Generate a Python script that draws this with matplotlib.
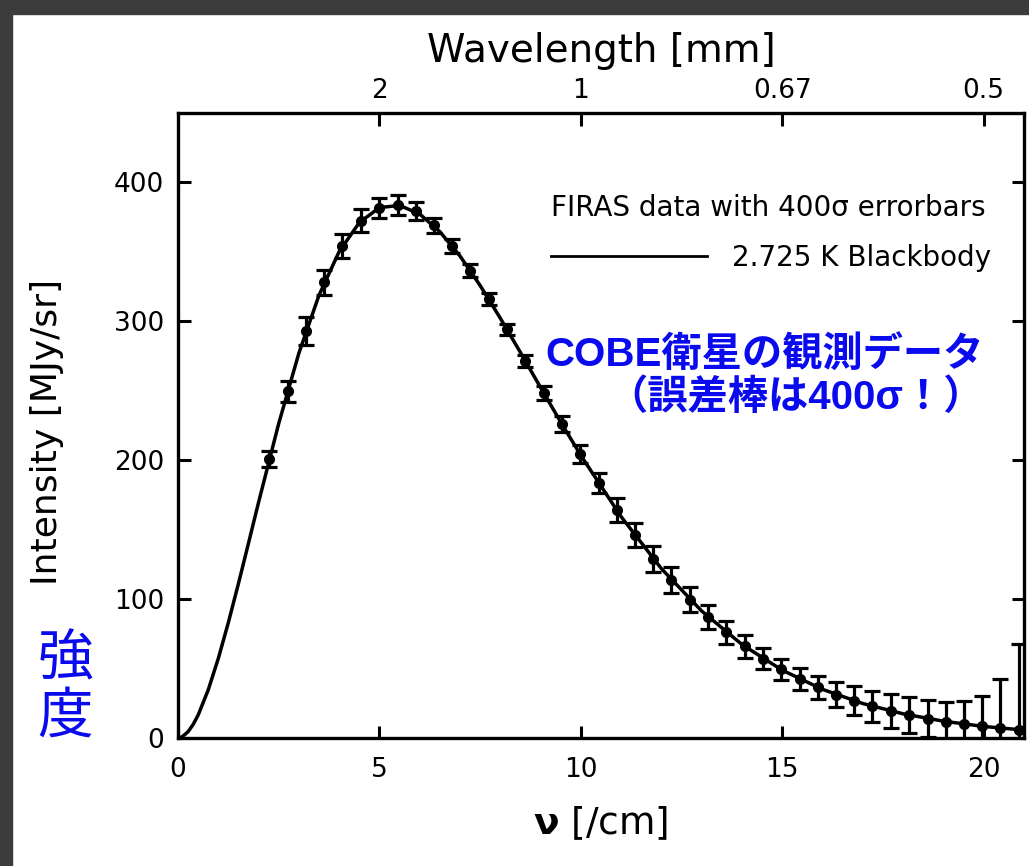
import matplotlib.pyplot as plt
from matplotlib.lines import Line2D
from matplotlib.patches import Rectangle

plt.rcParams['font.family'] = ['DejaVu Sans']

# FIRAS points (nu in /cm, intensity in MJy/sr, error bar = 400 sigma in MJy/sr)
nu = [2.27, 2.72, 3.18, 3.63, 4.08, 4.54, 4.99, 5.45, 5.90, 6.35, 6.81,
      7.26, 7.71, 8.17, 8.62, 9.08, 9.53, 9.98, 10.44, 10.89, 11.34, 11.80,
      12.25, 12.71, 13.16, 13.61, 14.07, 14.52, 14.97, 15.43, 15.88, 16.34,
      16.79, 17.24, 17.70, 18.15, 18.61, 19.06, 19.51, 19.97, 20.42, 20.87]
intensity = [200.7, 249.5, 293.0, 327.8, 354.1, 372.1, 381.5, 383.5, 378.9,
             368.8, 354.1, 336.3, 316.1, 293.9, 271.4, 248.2, 225.9, 204.3,
             183.3, 163.8, 145.8, 128.8, 113.6, 99.5, 87.0, 75.9, 65.8, 57.0,
             49.2, 42.3, 36.4, 31.1, 26.6, 22.6, 19.3, 16.4, 13.8, 11.7, 9.9,
             8.4, 7.1, 5.8]
err400 = [5.6, 7.6, 10.0, 9.2, 8.8, 8.4, 7.2, 7.2, 6.4, 5.6, 5.2, 4.8, 4.4,
          4.0, 4.4, 4.8, 5.6, 6.4, 7.2, 8.8, 8.8, 9.2, 9.2, 9.2, 8.8, 8.4,
          8.0, 7.6, 7.6, 7.6, 8.4, 9.2, 10.4, 11.2, 12.0, 12.8, 13.2, 14.0,
          16.4, 22.0, 35.2, 62.0]

# 2.725 K blackbody curve
bb_nu = [0, 0.1, 0.25, 0.375, 0.5, 0.75, 1.0, 1.25, 1.5, 1.75, 2.0, 2.5,
         3.0, 3.5, 4.0, 4.5, 5.0, 5.5, 6.0, 6.5, 7.0, 7.5, 8.0, 8.5, 9.0,
         9.5, 10, 11, 12, 13, 14, 15, 16, 17, 18, 19, 20, 21]
bb_int = [0, 0.7, 4.4, 9.6, 16.4, 34.5, 57.1, 83.0, 111.0, 140.1, 169.5,
          226.2, 276.8, 318.5, 349.9, 370.8, 381.6, 383.2, 377.0, 364.3,
          346.8, 325.6, 302.1, 277.4, 252.2, 227.3, 203.3, 159.2, 121.8,
          91.3, 67.2, 48.7, 34.9, 24.7, 17.3, 12.0, 8.2, 5.6]

top_pos = [5, 10, 15, 20]
top_labels = ['2', '1', '0.67', '0.5']

fig = plt.figure(figsize=(10.29, 8.66), dpi=100)
fig.patches.append(Rectangle((0, 0), 0.012, 1, transform=fig.transFigure,
                             color='#3c3c3c', zorder=-10))
fig.patches.append(Rectangle((0, 0.984), 1, 0.016, transform=fig.transFigure,
                             color='#3c3c3c', zorder=-10))
ax = fig.add_axes([0.173, 0.148, 0.822, 0.722])

ax.plot(bb_nu, bb_int, color='black', lw=2.5)
ax.errorbar(nu, intensity, yerr=err400, fmt='o', color='black', ms=7,
            elinewidth=2.3, capsize=5.5, capthick=2.3)

ax.set_xlim(0, 21)
ax.set_ylim(0, 450)
ax.set_xticks([0, 5, 10, 15, 20])
ax.set_yticks([0, 100, 200, 300, 400])
ax.tick_params(direction='in', length=9, width=2.2, labelsize=19, right=True)
ax.tick_params(axis='x', pad=14)
ax.tick_params(axis='y', pad=10)
for s in ax.spines.values():
    s.set_linewidth(2.4)

top = ax.secondary_xaxis('top')
top.set_xticks(top_pos, top_labels)
top.tick_params(direction='in', length=9, width=2.2, labelsize=19, pad=6)
top.set_xlabel('Wavelength [mm]', fontsize=28, labelpad=12)

ax.set_ylabel('Intensity [MJy/sr]', fontsize=26)
ax.yaxis.set_label_coords(-0.135, 0.49)
ax.set_xlabel(r'$\mathbf{\nu}$ [/cm]', fontsize=27, labelpad=15)

leg = ax.legend(handles=[Line2D([], [], color='black', lw=2)],
                labels=['2.725 K Blackbody'], title='FIRAS data with 400σ errorbars',
                loc='upper right', bbox_to_anchor=(0.977, 0.892), frameon=False,
                fontsize=20, title_fontsize=20, handlelength=5.6,
                handletextpad=0.9, labelspacing=0.3, alignment='left',
                borderpad=0)
leg._legend_box.sep = 16

ax.text(0.953, 0.578, 'COBE衛星の観測データ\n（誤差棒は400σ！）',
        transform=ax.transAxes, ha='right', va='center', color='#0a0aee',
        fontsize=29, fontweight='bold', linespacing=1.12,
        family=['Liberation Sans', 'Noto Sans CJK JP'])
fig.text(0.063, 0.205, '強\n度', ha='center', va='center', color='#0a0aee',
         fontsize=40, linespacing=1.0,
         family=['Noto Sans CJK JP', 'DejaVu Sans'])

fig.savefig('out.png', dpi=100, facecolor='white')
